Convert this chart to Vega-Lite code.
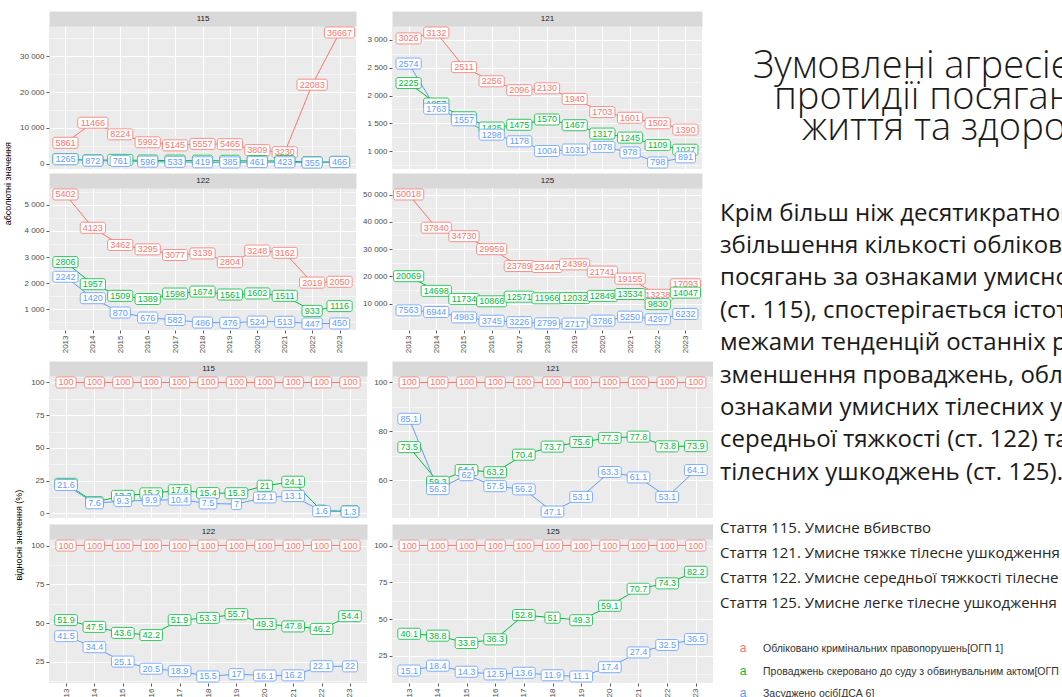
{
"$schema": "https://vega.github.io/schema/vega-lite/v6.json",
"padding": {"left": 3, "top": 14, "right": 0, "bottom": 0},
"background": "white",
"config": {
 "view": {"fill": "#EBEBEB", "stroke": null},
 "axis": {"domain": false, "tickSize": 3, "tickColor": "#333333", "tickWidth": 0.8, "labelFont": "Liberation Sans", "labelFontSize": 8, "labelColor": "#4D4D4D", "labelPadding": 2, "gridColor": "#FFFFFF", "gridWidth": 1},
 "rect": {"fill": "white", "strokeWidth": 0.8, "cornerRadius": 2, "width": {"expr": "length(toString(datum.v))*5-(indexof(toString(datum.v),'.')>=0?2.5:0)+5.2"}, "height": 11},
 "text": {"font": "Liberation Sans", "fontSize": 9, "baseline": "middle", "align": "center"},
 "line": {"strokeWidth": 1}
},
"datasets": {
 "abs": [
  {"a":"115","y":2013,"s":"reg","v":5861},{"a":"115","y":2014,"s":"reg","v":11466},{"a":"115","y":2015,"s":"reg","v":8224},{"a":"115","y":2016,"s":"reg","v":5992},{"a":"115","y":2017,"s":"reg","v":5145},{"a":"115","y":2018,"s":"reg","v":5557},{"a":"115","y":2019,"s":"reg","v":5465},{"a":"115","y":2020,"s":"reg","v":3809},{"a":"115","y":2021,"s":"reg","v":3230},{"a":"115","y":2022,"s":"reg","v":22083},{"a":"115","y":2023,"s":"reg","v":36667},
  {"a":"115","y":2013,"s":"court","v":1319},{"a":"115","y":2014,"s":"court","v":975},{"a":"115","y":2015,"s":"court","v":1094},{"a":"115","y":2016,"s":"court","v":911},{"a":"115","y":2017,"s":"court","v":906},{"a":"115","y":2018,"s":"court","v":856},{"a":"115","y":2019,"s":"court","v":836},{"a":"115","y":2020,"s":"court","v":800},{"a":"115","y":2021,"s":"court","v":778},{"a":"115","y":2022,"s":"court","v":442},{"a":"115","y":2023,"s":"court","v":550},
  {"a":"115","y":2013,"s":"conv","v":1265},{"a":"115","y":2014,"s":"conv","v":872},{"a":"115","y":2015,"s":"conv","v":761},{"a":"115","y":2016,"s":"conv","v":596},{"a":"115","y":2017,"s":"conv","v":533},{"a":"115","y":2018,"s":"conv","v":419},{"a":"115","y":2019,"s":"conv","v":385},{"a":"115","y":2020,"s":"conv","v":461},{"a":"115","y":2021,"s":"conv","v":423},{"a":"115","y":2022,"s":"conv","v":355},{"a":"115","y":2023,"s":"conv","v":466},
  {"a":"121","y":2013,"s":"reg","v":3026},{"a":"121","y":2014,"s":"reg","v":3132},{"a":"121","y":2015,"s":"reg","v":2511},{"a":"121","y":2016,"s":"reg","v":2256},{"a":"121","y":2017,"s":"reg","v":2096},{"a":"121","y":2018,"s":"reg","v":2130},{"a":"121","y":2019,"s":"reg","v":1940},{"a":"121","y":2020,"s":"reg","v":1703},{"a":"121","y":2021,"s":"reg","v":1601},{"a":"121","y":2022,"s":"reg","v":1502},{"a":"121","y":2023,"s":"reg","v":1390},
  {"a":"121","y":2013,"s":"court","v":2225},{"a":"121","y":2014,"s":"court","v":1857},{"a":"121","y":2015,"s":"court","v":1610},{"a":"121","y":2016,"s":"court","v":1425},{"a":"121","y":2017,"s":"court","v":1475},{"a":"121","y":2018,"s":"court","v":1570},{"a":"121","y":2019,"s":"court","v":1467},{"a":"121","y":2020,"s":"court","v":1317},{"a":"121","y":2021,"s":"court","v":1245},{"a":"121","y":2022,"s":"court","v":1109},{"a":"121","y":2023,"s":"court","v":1027},
  {"a":"121","y":2013,"s":"conv","v":2574},{"a":"121","y":2014,"s":"conv","v":1763},{"a":"121","y":2015,"s":"conv","v":1557},{"a":"121","y":2016,"s":"conv","v":1298},{"a":"121","y":2017,"s":"conv","v":1178},{"a":"121","y":2018,"s":"conv","v":1004},{"a":"121","y":2019,"s":"conv","v":1031},{"a":"121","y":2020,"s":"conv","v":1078},{"a":"121","y":2021,"s":"conv","v":978},{"a":"121","y":2022,"s":"conv","v":798},{"a":"121","y":2023,"s":"conv","v":891},
  {"a":"122","y":2013,"s":"reg","v":5402},{"a":"122","y":2014,"s":"reg","v":4123},{"a":"122","y":2015,"s":"reg","v":3462},{"a":"122","y":2016,"s":"reg","v":3295},{"a":"122","y":2017,"s":"reg","v":3077},{"a":"122","y":2018,"s":"reg","v":3139},{"a":"122","y":2019,"s":"reg","v":2804},{"a":"122","y":2020,"s":"reg","v":3248},{"a":"122","y":2021,"s":"reg","v":3162},{"a":"122","y":2022,"s":"reg","v":2019},{"a":"122","y":2023,"s":"reg","v":2050},
  {"a":"122","y":2013,"s":"court","v":2806},{"a":"122","y":2014,"s":"court","v":1957},{"a":"122","y":2015,"s":"court","v":1509},{"a":"122","y":2016,"s":"court","v":1389},{"a":"122","y":2017,"s":"court","v":1598},{"a":"122","y":2018,"s":"court","v":1674},{"a":"122","y":2019,"s":"court","v":1561},{"a":"122","y":2020,"s":"court","v":1602},{"a":"122","y":2021,"s":"court","v":1511},{"a":"122","y":2022,"s":"court","v":933},{"a":"122","y":2023,"s":"court","v":1116},
  {"a":"122","y":2013,"s":"conv","v":2242},{"a":"122","y":2014,"s":"conv","v":1420},{"a":"122","y":2015,"s":"conv","v":870},{"a":"122","y":2016,"s":"conv","v":676},{"a":"122","y":2017,"s":"conv","v":582},{"a":"122","y":2018,"s":"conv","v":486},{"a":"122","y":2019,"s":"conv","v":476},{"a":"122","y":2020,"s":"conv","v":524},{"a":"122","y":2021,"s":"conv","v":513},{"a":"122","y":2022,"s":"conv","v":447},{"a":"122","y":2023,"s":"conv","v":450},
  {"a":"125","y":2013,"s":"reg","v":50018},{"a":"125","y":2014,"s":"reg","v":37840},{"a":"125","y":2015,"s":"reg","v":34730},{"a":"125","y":2016,"s":"reg","v":29959},{"a":"125","y":2017,"s":"reg","v":23789},{"a":"125","y":2018,"s":"reg","v":23447},{"a":"125","y":2019,"s":"reg","v":24399},{"a":"125","y":2020,"s":"reg","v":21741},{"a":"125","y":2021,"s":"reg","v":19155},{"a":"125","y":2022,"s":"reg","v":13238},{"a":"125","y":2023,"s":"reg","v":17093},
  {"a":"125","y":2013,"s":"court","v":20069},{"a":"125","y":2014,"s":"court","v":14698},{"a":"125","y":2015,"s":"court","v":11734},{"a":"125","y":2016,"s":"court","v":10866},{"a":"125","y":2017,"s":"court","v":12571},{"a":"125","y":2018,"s":"court","v":11966},{"a":"125","y":2019,"s":"court","v":12032},{"a":"125","y":2020,"s":"court","v":12849},{"a":"125","y":2021,"s":"court","v":13534},{"a":"125","y":2022,"s":"court","v":9830},{"a":"125","y":2023,"s":"court","v":14047},
  {"a":"125","y":2013,"s":"conv","v":7563},{"a":"125","y":2014,"s":"conv","v":6944},{"a":"125","y":2015,"s":"conv","v":4983},{"a":"125","y":2016,"s":"conv","v":3745},{"a":"125","y":2017,"s":"conv","v":3226},{"a":"125","y":2018,"s":"conv","v":2799},{"a":"125","y":2019,"s":"conv","v":2717},{"a":"125","y":2020,"s":"conv","v":3786},{"a":"125","y":2021,"s":"conv","v":5250},{"a":"125","y":2022,"s":"conv","v":4297},{"a":"125","y":2023,"s":"conv","v":6232}
 ],
 "rel": [
  {"a":"115","y":2013,"s":"reg","v":100},{"a":"115","y":2014,"s":"reg","v":100},{"a":"115","y":2015,"s":"reg","v":100},{"a":"115","y":2016,"s":"reg","v":100},{"a":"115","y":2017,"s":"reg","v":100},{"a":"115","y":2018,"s":"reg","v":100},{"a":"115","y":2019,"s":"reg","v":100},{"a":"115","y":2020,"s":"reg","v":100},{"a":"115","y":2021,"s":"reg","v":100},{"a":"115","y":2022,"s":"reg","v":100},{"a":"115","y":2023,"s":"reg","v":100},
  {"a":"115","y":2013,"s":"court","v":22.5},{"a":"115","y":2014,"s":"court","v":8.5},{"a":"115","y":2015,"s":"court","v":13.3},{"a":"115","y":2016,"s":"court","v":15.2},{"a":"115","y":2017,"s":"court","v":17.6},{"a":"115","y":2018,"s":"court","v":15.4},{"a":"115","y":2019,"s":"court","v":15.3},{"a":"115","y":2020,"s":"court","v":21},{"a":"115","y":2021,"s":"court","v":24.1},{"a":"115","y":2022,"s":"court","v":2},{"a":"115","y":2023,"s":"court","v":1.5},
  {"a":"115","y":2013,"s":"conv","v":21.6},{"a":"115","y":2014,"s":"conv","v":7.6},{"a":"115","y":2015,"s":"conv","v":9.3},{"a":"115","y":2016,"s":"conv","v":9.9},{"a":"115","y":2017,"s":"conv","v":10.4},{"a":"115","y":2018,"s":"conv","v":7.5},{"a":"115","y":2019,"s":"conv","v":7},{"a":"115","y":2020,"s":"conv","v":12.1},{"a":"115","y":2021,"s":"conv","v":13.1},{"a":"115","y":2022,"s":"conv","v":1.6},{"a":"115","y":2023,"s":"conv","v":1.3},
  {"a":"121","y":2013,"s":"reg","v":100},{"a":"121","y":2014,"s":"reg","v":100},{"a":"121","y":2015,"s":"reg","v":100},{"a":"121","y":2016,"s":"reg","v":100},{"a":"121","y":2017,"s":"reg","v":100},{"a":"121","y":2018,"s":"reg","v":100},{"a":"121","y":2019,"s":"reg","v":100},{"a":"121","y":2020,"s":"reg","v":100},{"a":"121","y":2021,"s":"reg","v":100},{"a":"121","y":2022,"s":"reg","v":100},{"a":"121","y":2023,"s":"reg","v":100},
  {"a":"121","y":2013,"s":"court","v":73.5},{"a":"121","y":2014,"s":"court","v":59.3},{"a":"121","y":2015,"s":"court","v":64.1},{"a":"121","y":2016,"s":"court","v":63.2},{"a":"121","y":2017,"s":"court","v":70.4},{"a":"121","y":2018,"s":"court","v":73.7},{"a":"121","y":2019,"s":"court","v":75.6},{"a":"121","y":2020,"s":"court","v":77.3},{"a":"121","y":2021,"s":"court","v":77.8},{"a":"121","y":2022,"s":"court","v":73.8},{"a":"121","y":2023,"s":"court","v":73.9},
  {"a":"121","y":2013,"s":"conv","v":85.1},{"a":"121","y":2014,"s":"conv","v":56.3},{"a":"121","y":2015,"s":"conv","v":62},{"a":"121","y":2016,"s":"conv","v":57.5},{"a":"121","y":2017,"s":"conv","v":56.2},{"a":"121","y":2018,"s":"conv","v":47.1},{"a":"121","y":2019,"s":"conv","v":53.1},{"a":"121","y":2020,"s":"conv","v":63.3},{"a":"121","y":2021,"s":"conv","v":61.1},{"a":"121","y":2022,"s":"conv","v":53.1},{"a":"121","y":2023,"s":"conv","v":64.1},
  {"a":"122","y":2013,"s":"reg","v":100},{"a":"122","y":2014,"s":"reg","v":100},{"a":"122","y":2015,"s":"reg","v":100},{"a":"122","y":2016,"s":"reg","v":100},{"a":"122","y":2017,"s":"reg","v":100},{"a":"122","y":2018,"s":"reg","v":100},{"a":"122","y":2019,"s":"reg","v":100},{"a":"122","y":2020,"s":"reg","v":100},{"a":"122","y":2021,"s":"reg","v":100},{"a":"122","y":2022,"s":"reg","v":100},{"a":"122","y":2023,"s":"reg","v":100},
  {"a":"122","y":2013,"s":"court","v":51.9},{"a":"122","y":2014,"s":"court","v":47.5},{"a":"122","y":2015,"s":"court","v":43.6},{"a":"122","y":2016,"s":"court","v":42.2},{"a":"122","y":2017,"s":"court","v":51.9},{"a":"122","y":2018,"s":"court","v":53.3},{"a":"122","y":2019,"s":"court","v":55.7},{"a":"122","y":2020,"s":"court","v":49.3},{"a":"122","y":2021,"s":"court","v":47.8},{"a":"122","y":2022,"s":"court","v":46.2},{"a":"122","y":2023,"s":"court","v":54.4},
  {"a":"122","y":2013,"s":"conv","v":41.5},{"a":"122","y":2014,"s":"conv","v":34.4},{"a":"122","y":2015,"s":"conv","v":25.1},{"a":"122","y":2016,"s":"conv","v":20.5},{"a":"122","y":2017,"s":"conv","v":18.9},{"a":"122","y":2018,"s":"conv","v":15.5},{"a":"122","y":2019,"s":"conv","v":17},{"a":"122","y":2020,"s":"conv","v":16.1},{"a":"122","y":2021,"s":"conv","v":16.2},{"a":"122","y":2022,"s":"conv","v":22.1},{"a":"122","y":2023,"s":"conv","v":22},
  {"a":"125","y":2013,"s":"reg","v":100},{"a":"125","y":2014,"s":"reg","v":100},{"a":"125","y":2015,"s":"reg","v":100},{"a":"125","y":2016,"s":"reg","v":100},{"a":"125","y":2017,"s":"reg","v":100},{"a":"125","y":2018,"s":"reg","v":100},{"a":"125","y":2019,"s":"reg","v":100},{"a":"125","y":2020,"s":"reg","v":100},{"a":"125","y":2021,"s":"reg","v":100},{"a":"125","y":2022,"s":"reg","v":100},{"a":"125","y":2023,"s":"reg","v":100},
  {"a":"125","y":2013,"s":"court","v":40.1},{"a":"125","y":2014,"s":"court","v":38.8},{"a":"125","y":2015,"s":"court","v":33.8},{"a":"125","y":2016,"s":"court","v":36.3},{"a":"125","y":2017,"s":"court","v":52.8},{"a":"125","y":2018,"s":"court","v":51},{"a":"125","y":2019,"s":"court","v":49.3},{"a":"125","y":2020,"s":"court","v":59.1},{"a":"125","y":2021,"s":"court","v":70.7},{"a":"125","y":2022,"s":"court","v":74.3},{"a":"125","y":2023,"s":"court","v":82.2},
  {"a":"125","y":2013,"s":"conv","v":15.1},{"a":"125","y":2014,"s":"conv","v":18.4},{"a":"125","y":2015,"s":"conv","v":14.3},{"a":"125","y":2016,"s":"conv","v":12.5},{"a":"125","y":2017,"s":"conv","v":13.6},{"a":"125","y":2018,"s":"conv","v":11.9},{"a":"125","y":2019,"s":"conv","v":11.1},{"a":"125","y":2020,"s":"conv","v":17.4},{"a":"125","y":2021,"s":"conv","v":27.4},{"a":"125","y":2022,"s":"conv","v":32.5},{"a":"125","y":2023,"s":"conv","v":36.5}
 ]
},
"hconcat": [
 {"vconcat": [
  {"title": {"text": "абсолютні значення", "orient": "left", "anchor": "middle", "offset": 7, "fontSize": 9, "fontWeight": "normal", "color": "#000000", "font": "Liberation Sans"},
   "columns": 2, "spacing": {"row": 19, "column": 36}, "bounds": "flush",
   "concat": [
    {"width": 307, "height": 143, "data": {"name": "abs"}, "transform": [{"filter": "datum.a=='115'"}],
     "layer": [
      {"mark": {"type": "point", "opacity": 0},
       "encoding": {"x": {"field": "y", "type": "quantitative", "scale": {"domain": [2012.4, 2023.6], "nice": false, "zero": false}, "axis": {"orient": "top", "domain": true, "domainColor": "#D9D9D9", "domainWidth": 15, "offset": 7.5, "ticks": false, "labels": false, "grid": false, "title": "115", "titleFontSize": 8, "titleFontWeight": "normal", "titleColor": "#1A1A1A", "titleFont": "Liberation Sans", "titleY": 0, "titleBaseline": "middle"}},
                    "y": {"field": "v", "type": "quantitative", "scale": {"domain": [-1460, 38483], "nice": false, "zero": false}, "axis": {"orient": "right", "values": [5000, 15000, 25000, 35000], "labels": false, "ticks": false, "grid": true, "gridWidth": 0.5, "title": null}}}},
      {"encoding": {"x": {"field": "y", "type": "quantitative", "scale": {"domain": [2012.4, 2023.6], "nice": false, "zero": false}, "axis": {"values": [2013,2014,2015,2016,2017,2018,2019,2020,2021,2022,2023], "labels": false, "ticks": false, "grid": true, "title": null}},
                    "y": {"field": "v", "type": "quantitative", "scale": {"domain": [-1460, 38483], "nice": false, "zero": false}, "axis": {"orient": "left", "values": [0, 10000, 20000, 30000], "labelExpr": "replace(format(datum.value, ','), ',', ' ')", "grid": true, "title": null}}},
       "layer": [
        {"mark": {"type": "line"}, "encoding": {"color": {"field": "s", "type": "nominal", "scale": {"domain": ["reg", "court", "conv"], "range": ["#F8766D", "#00BA38", "#619CFF"]}, "legend": null}}},
        {"transform": [{"filter": "datum.s=='reg'"}], "mark": {"type": "rect", "stroke": "#F8766D"}},
        {"transform": [{"filter": "datum.s=='reg'"}], "mark": {"type": "text", "color": "#F8766D"}, "encoding": {"text": {"field": "v", "type": "quantitative"}}},
        {"transform": [{"filter": "datum.s=='court'"}], "mark": {"type": "rect", "stroke": "#00BA38"}},
        {"transform": [{"filter": "datum.s=='court'"}], "mark": {"type": "text", "color": "#00BA38"}, "encoding": {"text": {"field": "v", "type": "quantitative"}}},
        {"transform": [{"filter": "datum.s=='conv'"}], "mark": {"type": "rect", "stroke": "#619CFF"}},
        {"transform": [{"filter": "datum.s=='conv'"}], "mark": {"type": "text", "color": "#619CFF"}, "encoding": {"text": {"field": "v", "type": "quantitative"}}}
       ]}
     ],
     "resolve": {"axis": {"x": "independent", "y": "independent"}}},
    {"width": 310, "height": 143, "data": {"name": "abs"}, "transform": [{"filter": "datum.a=='121'"}],
     "layer": [
      {"mark": {"type": "point", "opacity": 0},
       "encoding": {"x": {"field": "y", "type": "quantitative", "scale": {"domain": [2012.4, 2023.6], "nice": false, "zero": false}, "axis": {"orient": "top", "domain": true, "domainColor": "#D9D9D9", "domainWidth": 15, "offset": 7.5, "ticks": false, "labels": false, "grid": false, "title": "121", "titleFontSize": 8, "titleFontWeight": "normal", "titleColor": "#1A1A1A", "titleFont": "Liberation Sans", "titleY": 0, "titleBaseline": "middle"}},
                    "y": {"field": "v", "type": "quantitative", "scale": {"domain": [681, 3249], "nice": false, "zero": false}, "axis": {"orient": "right", "values": [750, 1250, 1750, 2250, 2750], "labels": false, "ticks": false, "grid": true, "gridWidth": 0.5, "title": null}}}},
      {"encoding": {"x": {"field": "y", "type": "quantitative", "scale": {"domain": [2012.4, 2023.6], "nice": false, "zero": false}, "axis": {"values": [2013,2014,2015,2016,2017,2018,2019,2020,2021,2022,2023], "labels": false, "ticks": false, "grid": true, "title": null}},
                    "y": {"field": "v", "type": "quantitative", "scale": {"domain": [681, 3249], "nice": false, "zero": false}, "axis": {"orient": "left", "values": [1000, 1500, 2000, 2500, 3000], "labelExpr": "replace(format(datum.value, ','), ',', ' ')", "grid": true, "title": null}}},
       "layer": [
        {"mark": {"type": "line"}, "encoding": {"color": {"field": "s", "type": "nominal", "scale": {"domain": ["reg", "court", "conv"], "range": ["#F8766D", "#00BA38", "#619CFF"]}, "legend": null}}},
        {"transform": [{"filter": "datum.s=='reg'"}], "mark": {"type": "rect", "stroke": "#F8766D"}},
        {"transform": [{"filter": "datum.s=='reg'"}], "mark": {"type": "text", "color": "#F8766D"}, "encoding": {"text": {"field": "v", "type": "quantitative"}}},
        {"transform": [{"filter": "datum.s=='court'"}], "mark": {"type": "rect", "stroke": "#00BA38"}},
        {"transform": [{"filter": "datum.s=='court'"}], "mark": {"type": "text", "color": "#00BA38"}, "encoding": {"text": {"field": "v", "type": "quantitative"}}},
        {"transform": [{"filter": "datum.s=='conv'"}], "mark": {"type": "rect", "stroke": "#619CFF"}},
        {"transform": [{"filter": "datum.s=='conv'"}], "mark": {"type": "text", "color": "#619CFF"}, "encoding": {"text": {"field": "v", "type": "quantitative"}}}
       ]}
     ],
     "resolve": {"axis": {"x": "independent", "y": "independent"}}},
    {"width": 307, "height": 142, "data": {"name": "abs"}, "transform": [{"filter": "datum.a=='122'"}],
     "layer": [
      {"mark": {"type": "point", "opacity": 0},
       "encoding": {"x": {"field": "y", "type": "quantitative", "scale": {"domain": [2012.4, 2023.6], "nice": false, "zero": false}, "axis": {"orient": "top", "domain": true, "domainColor": "#D9D9D9", "domainWidth": 15, "offset": 7.5, "ticks": false, "labels": false, "grid": false, "title": "122", "titleFontSize": 8, "titleFontWeight": "normal", "titleColor": "#1A1A1A", "titleFont": "Liberation Sans", "titleY": 0, "titleBaseline": "middle"}},
                    "y": {"field": "v", "type": "quantitative", "scale": {"domain": [199, 5650], "nice": false, "zero": false}, "axis": {"orient": "right", "values": [500, 1500, 2500, 3500, 4500, 5500], "labels": false, "ticks": false, "grid": true, "gridWidth": 0.5, "title": null}}}},
      {"encoding": {"x": {"field": "y", "type": "quantitative", "scale": {"domain": [2012.4, 2023.6], "nice": false, "zero": false}, "axis": {"values": [2013,2014,2015,2016,2017,2018,2019,2020,2021,2022,2023], "labelAngle": 270, "format": "d", "grid": true, "title": null}},
                    "y": {"field": "v", "type": "quantitative", "scale": {"domain": [199, 5650], "nice": false, "zero": false}, "axis": {"orient": "left", "values": [1000, 2000, 3000, 4000, 5000], "labelExpr": "replace(format(datum.value, ','), ',', ' ')", "grid": true, "title": null}}},
       "layer": [
        {"mark": {"type": "line"}, "encoding": {"color": {"field": "s", "type": "nominal", "scale": {"domain": ["reg", "court", "conv"], "range": ["#F8766D", "#00BA38", "#619CFF"]}, "legend": null}}},
        {"transform": [{"filter": "datum.s=='reg'"}], "mark": {"type": "rect", "stroke": "#F8766D"}},
        {"transform": [{"filter": "datum.s=='reg'"}], "mark": {"type": "text", "color": "#F8766D"}, "encoding": {"text": {"field": "v", "type": "quantitative"}}},
        {"transform": [{"filter": "datum.s=='court'"}], "mark": {"type": "rect", "stroke": "#00BA38"}},
        {"transform": [{"filter": "datum.s=='court'"}], "mark": {"type": "text", "color": "#00BA38"}, "encoding": {"text": {"field": "v", "type": "quantitative"}}},
        {"transform": [{"filter": "datum.s=='conv'"}], "mark": {"type": "rect", "stroke": "#619CFF"}},
        {"transform": [{"filter": "datum.s=='conv'"}], "mark": {"type": "text", "color": "#619CFF"}, "encoding": {"text": {"field": "v", "type": "quantitative"}}}
       ]}
     ],
     "resolve": {"axis": {"x": "independent", "y": "independent"}}},
    {"width": 310, "height": 142, "data": {"name": "abs"}, "transform": [{"filter": "datum.a=='125'"}],
     "layer": [
      {"mark": {"type": "point", "opacity": 0},
       "encoding": {"x": {"field": "y", "type": "quantitative", "scale": {"domain": [2012.4, 2023.6], "nice": false, "zero": false}, "axis": {"orient": "top", "domain": true, "domainColor": "#D9D9D9", "domainWidth": 15, "offset": 7.5, "ticks": false, "labels": false, "grid": false, "title": "125", "titleFontSize": 8, "titleFontWeight": "normal", "titleColor": "#1A1A1A", "titleFont": "Liberation Sans", "titleY": 0, "titleBaseline": "middle"}},
                    "y": {"field": "v", "type": "quantitative", "scale": {"domain": [352, 52383], "nice": false, "zero": false}, "axis": {"orient": "right", "values": [5000, 15000, 25000, 35000, 45000], "labels": false, "ticks": false, "grid": true, "gridWidth": 0.5, "title": null}}}},
      {"encoding": {"x": {"field": "y", "type": "quantitative", "scale": {"domain": [2012.4, 2023.6], "nice": false, "zero": false}, "axis": {"values": [2013,2014,2015,2016,2017,2018,2019,2020,2021,2022,2023], "labelAngle": 270, "format": "d", "grid": true, "title": null}},
                    "y": {"field": "v", "type": "quantitative", "scale": {"domain": [352, 52383], "nice": false, "zero": false}, "axis": {"orient": "left", "values": [10000, 20000, 30000, 40000, 50000], "labelExpr": "replace(format(datum.value, ','), ',', ' ')", "grid": true, "title": null}}},
       "layer": [
        {"mark": {"type": "line"}, "encoding": {"color": {"field": "s", "type": "nominal", "scale": {"domain": ["reg", "court", "conv"], "range": ["#F8766D", "#00BA38", "#619CFF"]}, "legend": null}}},
        {"transform": [{"filter": "datum.s=='reg'"}], "mark": {"type": "rect", "stroke": "#F8766D"}},
        {"transform": [{"filter": "datum.s=='reg'"}], "mark": {"type": "text", "color": "#F8766D"}, "encoding": {"text": {"field": "v", "type": "quantitative"}}},
        {"transform": [{"filter": "datum.s=='court'"}], "mark": {"type": "rect", "stroke": "#00BA38"}},
        {"transform": [{"filter": "datum.s=='court'"}], "mark": {"type": "text", "color": "#00BA38"}, "encoding": {"text": {"field": "v", "type": "quantitative"}}},
        {"transform": [{"filter": "datum.s=='conv'"}], "mark": {"type": "rect", "stroke": "#619CFF"}},
        {"transform": [{"filter": "datum.s=='conv'"}], "mark": {"type": "text", "color": "#619CFF"}, "encoding": {"text": {"field": "v", "type": "quantitative"}}}
       ]}
     ],
     "resolve": {"axis": {"x": "independent", "y": "independent"}}}
   ]},
  {"title": {"text": "відносні значення (%)", "orient": "left", "anchor": "middle", "offset": 7, "fontSize": 9, "fontWeight": "normal", "color": "#000000", "font": "Liberation Sans"},
   "columns": 2, "spacing": {"row": 21, "column": 25}, "bounds": "flush",
   "concat": [
    {"width": 318, "height": 142, "data": {"name": "rel"}, "transform": [{"filter": "datum.a=='115'"}],
     "layer": [
      {"mark": {"type": "point", "opacity": 0},
       "encoding": {"x": {"field": "y", "type": "quantitative", "scale": {"domain": [2012.4, 2023.6], "nice": false, "zero": false}, "axis": {"orient": "top", "domain": true, "domainColor": "#D9D9D9", "domainWidth": 15, "offset": 7.5, "ticks": false, "labels": false, "grid": false, "title": "115", "titleFontSize": 8, "titleFontWeight": "normal", "titleColor": "#1A1A1A", "titleFont": "Liberation Sans", "titleY": 0, "titleBaseline": "middle"}},
                    "y": {"field": "v", "type": "quantitative", "scale": {"domain": [-3.635, 104.935], "nice": false, "zero": false}, "axis": {"orient": "right", "values": [12.5, 37.5, 62.5, 87.5], "labels": false, "ticks": false, "grid": true, "gridWidth": 0.5, "title": null}}}},
      {"encoding": {"x": {"field": "y", "type": "quantitative", "scale": {"domain": [2012.4, 2023.6], "nice": false, "zero": false}, "axis": {"values": [2013,2014,2015,2016,2017,2018,2019,2020,2021,2022,2023], "labels": false, "ticks": false, "grid": true, "title": null}},
                    "y": {"field": "v", "type": "quantitative", "scale": {"domain": [-3.635, 104.935], "nice": false, "zero": false}, "axis": {"orient": "left", "values": [0, 25, 50, 75, 100], "format": "d", "grid": true, "title": null}}},
       "layer": [
        {"mark": {"type": "line"}, "encoding": {"color": {"field": "s", "type": "nominal", "scale": {"domain": ["reg", "court", "conv"], "range": ["#F8766D", "#00BA38", "#619CFF"]}, "legend": null}}},
        {"transform": [{"filter": "datum.s=='reg'"}], "mark": {"type": "rect", "stroke": "#F8766D"}},
        {"transform": [{"filter": "datum.s=='reg'"}], "mark": {"type": "text", "color": "#F8766D"}, "encoding": {"text": {"field": "v", "type": "quantitative"}}},
        {"transform": [{"filter": "datum.s=='court'"}], "mark": {"type": "rect", "stroke": "#00BA38"}},
        {"transform": [{"filter": "datum.s=='court'"}], "mark": {"type": "text", "color": "#00BA38"}, "encoding": {"text": {"field": "v", "type": "quantitative"}}},
        {"transform": [{"filter": "datum.s=='conv'"}], "mark": {"type": "rect", "stroke": "#619CFF"}},
        {"transform": [{"filter": "datum.s=='conv'"}], "mark": {"type": "text", "color": "#619CFF"}, "encoding": {"text": {"field": "v", "type": "quantitative"}}}
       ]}
     ],
     "resolve": {"axis": {"x": "independent", "y": "independent"}}},
    {"width": 321, "height": 142, "data": {"name": "rel"}, "transform": [{"filter": "datum.a=='121'"}],
     "layer": [
      {"mark": {"type": "point", "opacity": 0},
       "encoding": {"x": {"field": "y", "type": "quantitative", "scale": {"domain": [2012.4, 2023.6], "nice": false, "zero": false}, "axis": {"orient": "top", "domain": true, "domainColor": "#D9D9D9", "domainWidth": 15, "offset": 7.5, "ticks": false, "labels": false, "grid": false, "title": "121", "titleFontSize": 8, "titleFontWeight": "normal", "titleColor": "#1A1A1A", "titleFont": "Liberation Sans", "titleY": 0, "titleBaseline": "middle"}},
                    "y": {"field": "v", "type": "quantitative", "scale": {"domain": [44.455, 102.645], "nice": false, "zero": false}, "axis": {"orient": "right", "values": [50, 70, 90], "labels": false, "ticks": false, "grid": true, "gridWidth": 0.5, "title": null}}}},
      {"encoding": {"x": {"field": "y", "type": "quantitative", "scale": {"domain": [2012.4, 2023.6], "nice": false, "zero": false}, "axis": {"values": [2013,2014,2015,2016,2017,2018,2019,2020,2021,2022,2023], "labels": false, "ticks": false, "grid": true, "title": null}},
                    "y": {"field": "v", "type": "quantitative", "scale": {"domain": [44.455, 102.645], "nice": false, "zero": false}, "axis": {"orient": "left", "values": [60, 80, 100], "format": "d", "grid": true, "title": null}}},
       "layer": [
        {"mark": {"type": "line"}, "encoding": {"color": {"field": "s", "type": "nominal", "scale": {"domain": ["reg", "court", "conv"], "range": ["#F8766D", "#00BA38", "#619CFF"]}, "legend": null}}},
        {"transform": [{"filter": "datum.s=='reg'"}], "mark": {"type": "rect", "stroke": "#F8766D"}},
        {"transform": [{"filter": "datum.s=='reg'"}], "mark": {"type": "text", "color": "#F8766D"}, "encoding": {"text": {"field": "v", "type": "quantitative"}}},
        {"transform": [{"filter": "datum.s=='court'"}], "mark": {"type": "rect", "stroke": "#00BA38"}},
        {"transform": [{"filter": "datum.s=='court'"}], "mark": {"type": "text", "color": "#00BA38"}, "encoding": {"text": {"field": "v", "type": "quantitative"}}},
        {"transform": [{"filter": "datum.s=='conv'"}], "mark": {"type": "rect", "stroke": "#619CFF"}},
        {"transform": [{"filter": "datum.s=='conv'"}], "mark": {"type": "text", "color": "#619CFF"}, "encoding": {"text": {"field": "v", "type": "quantitative"}}}
       ]}
     ],
     "resolve": {"axis": {"x": "independent", "y": "independent"}}},
    {"width": 318, "height": 144, "data": {"name": "rel"}, "transform": [{"filter": "datum.a=='122'"}],
     "layer": [
      {"mark": {"type": "point", "opacity": 0},
       "encoding": {"x": {"field": "y", "type": "quantitative", "scale": {"domain": [2012.4, 2023.6], "nice": false, "zero": false}, "axis": {"orient": "top", "domain": true, "domainColor": "#D9D9D9", "domainWidth": 15, "offset": 7.5, "ticks": false, "labels": false, "grid": false, "title": "122", "titleFontSize": 8, "titleFontWeight": "normal", "titleColor": "#1A1A1A", "titleFont": "Liberation Sans", "titleY": 0, "titleBaseline": "middle"}},
                    "y": {"field": "v", "type": "quantitative", "scale": {"domain": [11.275, 104.225], "nice": false, "zero": false}, "axis": {"orient": "right", "values": [12.5, 37.5, 62.5, 87.5], "labels": false, "ticks": false, "grid": true, "gridWidth": 0.5, "title": null}}}},
      {"encoding": {"x": {"field": "y", "type": "quantitative", "scale": {"domain": [2012.4, 2023.6], "nice": false, "zero": false}, "axis": {"values": [2013,2014,2015,2016,2017,2018,2019,2020,2021,2022,2023], "labelAngle": 270, "format": "d", "grid": true, "title": null}},
                    "y": {"field": "v", "type": "quantitative", "scale": {"domain": [11.275, 104.225], "nice": false, "zero": false}, "axis": {"orient": "left", "values": [25, 50, 75, 100], "format": "d", "grid": true, "title": null}}},
       "layer": [
        {"mark": {"type": "line"}, "encoding": {"color": {"field": "s", "type": "nominal", "scale": {"domain": ["reg", "court", "conv"], "range": ["#F8766D", "#00BA38", "#619CFF"]}, "legend": null}}},
        {"transform": [{"filter": "datum.s=='reg'"}], "mark": {"type": "rect", "stroke": "#F8766D"}},
        {"transform": [{"filter": "datum.s=='reg'"}], "mark": {"type": "text", "color": "#F8766D"}, "encoding": {"text": {"field": "v", "type": "quantitative"}}},
        {"transform": [{"filter": "datum.s=='court'"}], "mark": {"type": "rect", "stroke": "#00BA38"}},
        {"transform": [{"filter": "datum.s=='court'"}], "mark": {"type": "text", "color": "#00BA38"}, "encoding": {"text": {"field": "v", "type": "quantitative"}}},
        {"transform": [{"filter": "datum.s=='conv'"}], "mark": {"type": "rect", "stroke": "#619CFF"}},
        {"transform": [{"filter": "datum.s=='conv'"}], "mark": {"type": "text", "color": "#619CFF"}, "encoding": {"text": {"field": "v", "type": "quantitative"}}}
       ]}
     ],
     "resolve": {"axis": {"x": "independent", "y": "independent"}}},
    {"width": 321, "height": 144, "data": {"name": "rel"}, "transform": [{"filter": "datum.a=='125'"}],
     "layer": [
      {"mark": {"type": "point", "opacity": 0},
       "encoding": {"x": {"field": "y", "type": "quantitative", "scale": {"domain": [2012.4, 2023.6], "nice": false, "zero": false}, "axis": {"orient": "top", "domain": true, "domainColor": "#D9D9D9", "domainWidth": 15, "offset": 7.5, "ticks": false, "labels": false, "grid": false, "title": "125", "titleFontSize": 8, "titleFontWeight": "normal", "titleColor": "#1A1A1A", "titleFont": "Liberation Sans", "titleY": 0, "titleBaseline": "middle"}},
                    "y": {"field": "v", "type": "quantitative", "scale": {"domain": [6.655, 104.445], "nice": false, "zero": false}, "axis": {"orient": "right", "values": [12.5, 37.5, 62.5, 87.5], "labels": false, "ticks": false, "grid": true, "gridWidth": 0.5, "title": null}}}},
      {"encoding": {"x": {"field": "y", "type": "quantitative", "scale": {"domain": [2012.4, 2023.6], "nice": false, "zero": false}, "axis": {"values": [2013,2014,2015,2016,2017,2018,2019,2020,2021,2022,2023], "labelAngle": 270, "format": "d", "grid": true, "title": null}},
                    "y": {"field": "v", "type": "quantitative", "scale": {"domain": [6.655, 104.445], "nice": false, "zero": false}, "axis": {"orient": "left", "values": [25, 50, 75, 100], "format": "d", "grid": true, "title": null}}},
       "layer": [
        {"mark": {"type": "line"}, "encoding": {"color": {"field": "s", "type": "nominal", "scale": {"domain": ["reg", "court", "conv"], "range": ["#F8766D", "#00BA38", "#619CFF"]}, "legend": null}}},
        {"transform": [{"filter": "datum.s=='reg'"}], "mark": {"type": "rect", "stroke": "#F8766D"}},
        {"transform": [{"filter": "datum.s=='reg'"}], "mark": {"type": "text", "color": "#F8766D"}, "encoding": {"text": {"field": "v", "type": "quantitative"}}},
        {"transform": [{"filter": "datum.s=='court'"}], "mark": {"type": "rect", "stroke": "#00BA38"}},
        {"transform": [{"filter": "datum.s=='court'"}], "mark": {"type": "text", "color": "#00BA38"}, "encoding": {"text": {"field": "v", "type": "quantitative"}}},
        {"transform": [{"filter": "datum.s=='conv'"}], "mark": {"type": "rect", "stroke": "#619CFF"}},
        {"transform": [{"filter": "datum.s=='conv'"}], "mark": {"type": "text", "color": "#619CFF"}, "encoding": {"text": {"field": "v", "type": "quantitative"}}}
       ]}
     ],
     "resolve": {"axis": {"x": "independent", "y": "independent"}}}
   ]}
 ], "spacing": 11, "bounds": "full"},
 {"width": 352, "height": 687, "view": {"fill": "white", "stroke": null},
  "layer": [
   {"data": {"values": [{"t": "Зумовлені агресією РФ зміни"}]}, "mark": {"type": "text", "font": "Open Sans", "fontSize": 38, "fontWeight": 300, "align": "left", "baseline": "alphabetic", "color": "#1A1A1A"},
    "encoding": {"text": {"field": "t"}, "x": {"datum": 753, "type": "quantitative", "scale": {"domain": [713, 1065], "nice": false, "zero": false}, "axis": null}, "y": {"datum": 62, "type": "quantitative", "scale": {"domain": [697, 10], "nice": false, "zero": false}, "axis": null}}},
   {"data": {"values": [{"t": "протидії посяганням на"}]}, "mark": {"type": "text", "font": "Open Sans", "fontSize": 38, "fontWeight": 300, "align": "left", "baseline": "alphabetic", "color": "#1A1A1A"},
    "encoding": {"text": {"field": "t"}, "x": {"datum": 774, "type": "quantitative"}, "y": {"datum": 93, "type": "quantitative"}}},
   {"data": {"values": [{"t": "життя та здоров'я"}]}, "mark": {"type": "text", "font": "Open Sans", "fontSize": 38, "fontWeight": 300, "align": "left", "baseline": "alphabetic", "color": "#1A1A1A"},
    "encoding": {"text": {"field": "t"}, "x": {"datum": 802, "type": "quantitative"}, "y": {"datum": 124, "type": "quantitative"}}},
   {"data": {"values": [{"t": "Крім більш ніж десятикратного\nзбільшення кількості облікованих\nпосягань за ознаками умисного вбивства\n(ст. 115), спостерігається істотне (за\nмежами тенденцій останніх років)\nзменшення проваджень, облікованих за\nознаками умисних тілесних ушкоджень\nсередньої тяжкості (ст. 122) та легких\nтілесних ушкоджень (ст. 125)."}]},
    "mark": {"type": "text", "font": "Open Sans", "fontSize": 24, "align": "left", "baseline": "alphabetic", "lineBreak": "\n", "lineHeight": 32.4, "color": "#1A1A1A"},
    "encoding": {"text": {"field": "t"}, "x": {"datum": 720, "type": "quantitative"}, "y": {"datum": 204.5, "type": "quantitative"}}},
   {"data": {"values": [{"t": "Стаття 115. Умисне вбивство\nСтаття 121. Умисне тяжке тілесне ушкодження\nСтаття 122. Умисне середньої тяжкості тілесне ушкодження\nСтаття 125. Умисне легке тілесне ушкодження"}]},
    "mark": {"type": "text", "font": "Open Sans", "fontSize": 15, "align": "left", "baseline": "alphabetic", "lineBreak": "\n", "lineHeight": 25, "color": "#262626"},
    "encoding": {"text": {"field": "t"}, "x": {"datum": 720, "type": "quantitative"}, "y": {"datum": 517, "type": "quantitative"}}},
   {"data": {"values": [{"k": "a"}]}, "mark": {"type": "text", "fontSize": 12, "color": "#F8766D"},
    "encoding": {"text": {"field": "k"}, "x": {"datum": 743, "type": "quantitative"}, "y": {"datum": 632, "type": "quantitative"}}},
   {"data": {"values": [{"k": "a"}]}, "mark": {"type": "text", "fontSize": 12, "color": "#00BA38"},
    "encoding": {"text": {"field": "k"}, "x": {"datum": 743, "type": "quantitative"}, "y": {"datum": 655, "type": "quantitative"}}},
   {"data": {"values": [{"k": "a"}]}, "mark": {"type": "text", "fontSize": 12, "color": "#619CFF"},
    "encoding": {"text": {"field": "k"}, "x": {"datum": 743, "type": "quantitative"}, "y": {"datum": 677, "type": "quantitative"}}},
   {"data": {"values": [{"t": "Обліковано кримінальних правопорушень[ОГП 1]\nПроваджень скеровано до суду з обвинувальним актом[ОГП 1]\nЗасуджено осіб[ДСА 6]"}]},
    "mark": {"type": "text", "fontSize": 10.5, "align": "left", "baseline": "alphabetic", "lineBreak": "\n", "lineHeight": 22.5, "color": "#333333"},
    "encoding": {"text": {"field": "t"}, "x": {"datum": 763, "type": "quantitative"}, "y": {"datum": 636, "type": "quantitative"}}}
  ]}
],
"spacing": 0, "bounds": "full"
}
